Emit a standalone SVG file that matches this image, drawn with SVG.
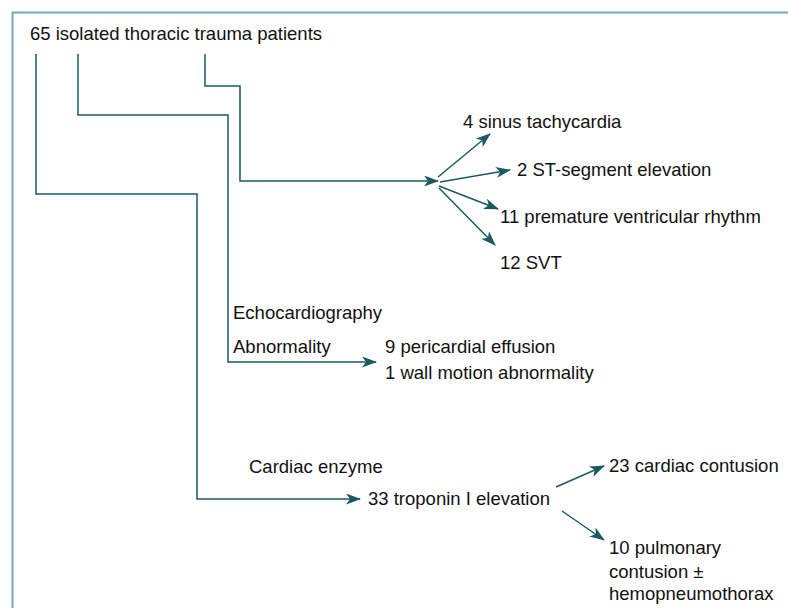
<svg xmlns="http://www.w3.org/2000/svg" width="788" height="608" viewBox="0 0 788 608">
<style>
text{font-family:"Liberation Sans",Arial,sans-serif;font-size:18.5px;fill:#111}
.c{fill:none;stroke:#1b5a63;stroke-width:1.5}
.a{marker-end:url(#ah)}
</style>
<defs>
<marker id="ah" viewBox="0 0 15 11" refX="14" refY="5.5" markerWidth="15" markerHeight="11" markerUnits="userSpaceOnUse" orient="auto">
<path d="M0,0 L15,5.5 L0,11 L4,5.5 z" fill="#1b5a63"/>
</marker>
</defs>
<rect width="788" height="608" fill="#fff"/>
<path d="M12.5,608 V12.5 H788" fill="none" stroke="#7aa9ad" stroke-width="2"/>
<g id="root"><text x="30" y="40">65 isolated thoracic trauma patients</text></g>
<g id="ecg1"><text x="463" y="128">4 sinus tachycardia</text></g>
<g id="ecg2"><text x="517" y="176">2 ST-segment elevation</text></g>
<g id="ecg3"><text x="500" y="223">11 premature ventricular rhythm</text></g>
<g id="ecg4"><text x="500" y="269">12 SVT</text></g>
<g id="echo-label"><text x="233" y="319">Echocardiography</text><text x="233" y="353">Abnormality</text></g>
<g id="echo"><text x="385" y="353">9 pericardial effusion</text><text x="385" y="379">1 wall motion abnormality</text></g>
<g id="enzyme-label"><text x="249" y="473">Cardiac enzyme</text></g>
<g id="troponin"><text x="368" y="505">33 troponin I elevation</text></g>
<g id="contusion"><text x="609" y="472">23 cardiac contusion</text></g>
<g id="pulmonary"><text x="609" y="554">10 pulmonary</text><text x="609" y="578">contusion ±</text><text x="609" y="600">hemopneumothorax</text></g>
<g id="connectors">
<path class="c a" d="M205,54 V86 H240 V181 H438"/>
<path class="c a" d="M78,54 V115 H228 V362 H376"/>
<path class="c a" d="M36,54 V194 H197 V499 H360"/>
<path class="c a" d="M438,177 L490,134"/>
<path class="c a" d="M440,182 L510,170"/>
<path class="c a" d="M439,186 L498,209"/>
<path class="c a" d="M439,188 L495,245"/>
<path class="c a" d="M556,487 L604,466"/>
<path class="c a" d="M562,511 L604,540"/>
</g>
</svg>
